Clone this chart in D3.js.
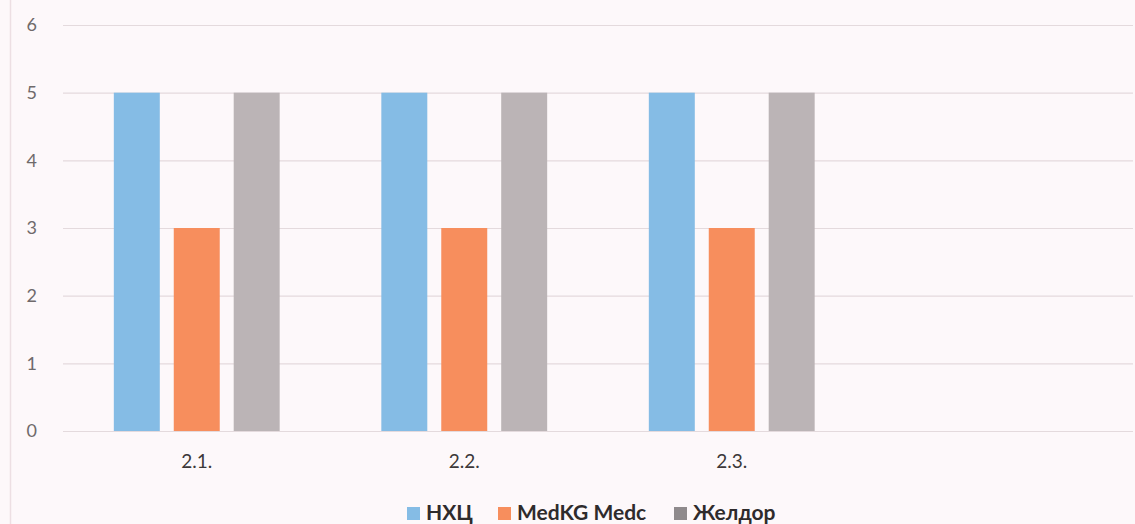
<!DOCTYPE html>
<html>
<head>
<meta charset="utf-8">
<script src="https://cdn.jsdelivr.net/npm/d3@7"></script>
<style>
  html, body { margin: 0; padding: 0; background: #fdf8fa; }
  svg { display: block; }
</style>
</head>
<body>
<script>
// Grouped column chart: three providers across question items
const categories = ["2.1.", "2.2.", "2.3.", ""];
const seriesNames = ["НХЦ", "MedKG Medc", "Желдор"];
const nhcValues = [5, 5, 5];
const medkgValues = [3, 3, 3];
const zheldorValues = [5, 5, 5];
const yTicks = [0, 1, 2, 3, 4, 5, 6];
const colors = ["#85bce5", "#f78e5d", "#bbb4b6"];

const seriesValues = [nhcValues, medkgValues, zheldorValues];

const W = 1135, H = 524;
const margin = { left: 63, right: 2, top: 25, bottom: 93 };
const font = "Lato, 'Open Sans', sans-serif";

const svg = d3.select("body").append("svg")
  .attr("width", W).attr("height", H);

svg.append("rect").attr("width", W).attr("height", H).attr("fill", "#fdf8fa");

// faint frame edge on the left
svg.append("line")
  .attr("x1", 10.5).attr("x2", 10.5).attr("y1", 0).attr("y2", H)
  .attr("stroke", "#eddfe3").attr("stroke-width", 1.5);

const x = d3.scaleBand()
  .domain(categories.map((c, i) => i))
  .range([margin.left, W - margin.right])
  .paddingInner(0.38)
  .paddingOuter(0.19);

const xSub = d3.scaleBand()
  .domain(seriesNames)
  .range([0, x.bandwidth()])
  .paddingInner(0.233)
  .paddingOuter(0);

const y = d3.scaleLinear()
  .domain([0, 6])
  .range([H - margin.bottom, margin.top]);

// gridlines + y labels
const yAxis = d3.axisLeft(y)
  .tickValues(yTicks)
  .tickFormat(d3.format("d"))
  .tickSize(-(W - margin.left - margin.right))
  .tickPadding(26);

const gy = svg.append("g")
  .attr("transform", `translate(${margin.left},0)`)
  .call(yAxis);
gy.select(".domain").remove();
gy.selectAll(".tick line").attr("stroke", "#e4dadd").attr("stroke-width", 1.2);
gy.selectAll(".tick text")
  .attr("fill", "#6f6a6b")
  .style("font-family", font)
  .style("font-size", "18px");

// bars
const groups = svg.append("g").selectAll("g")
  .data(categories.slice(0, nhcValues.length))
  .join("g")
  .attr("transform", (d, i) => `translate(${x(i)},0)`);

groups.selectAll("rect")
  .data((d, i) => seriesNames.map((s, k) => ({ s, k, v: seriesValues[k][i] })))
  .join("rect")
  .attr("x", d => xSub(d.s))
  .attr("width", xSub.bandwidth())
  .attr("y", d => y(d.v))
  .attr("height", d => y(0) - y(d.v))
  .attr("fill", d => colors[d.k]);

// category labels
const xAxis = d3.axisBottom(x)
  .tickFormat(i => categories[i])
  .tickSize(0)
  .tickPadding(24);
const gx = svg.append("g")
  .attr("transform", `translate(0,${y(0)})`)
  .call(xAxis);
gx.select(".domain").remove();
gx.selectAll(".tick text")
  .attr("fill", "#3c3839")
  .style("font-family", font)
  .style("font-size", "19px");

// legend
const legend = svg.append("g").attr("transform", "translate(0,520)");
const legendStarts = [407, 498, 674];
seriesNames.forEach((name, k) => {
  const item = legend.append("g").attr("transform", `translate(${legendStarts[k]},0)`);
  item.append("rect")
    .attr("x", 0).attr("y", -13).attr("width", 13).attr("height", 13)
    .attr("fill", k === 2 ? "#8f8a8c" : colors[k]);
  item.append("text")
    .attr("x", 19).attr("y", 0)
    .attr("fill", "#2f2b2c")
    .style("font-family", font)
    .style("font-weight", "bold")
    .style("font-size", "21px")
    .text(name);
});
</script>
</body>
</html>
